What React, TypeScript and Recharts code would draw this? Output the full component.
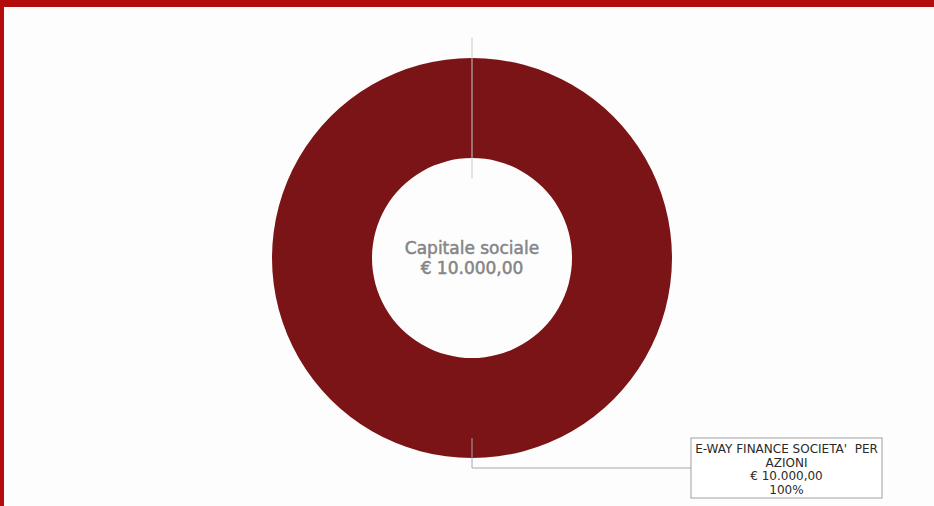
import { PieChart, Pie, Cell } from "recharts";

const holders = ["E-WAY FINANCE SOCIETA'  PER AZIONI"];
const holderLines = [["E-WAY FINANCE SOCIETA'  PER", "AZIONI"]];
const amounts = [10000];
const amountLabels = ["€ 10.000,00"];
const shareLabels = ["100%"];
const centerTitle = "Capitale sociale";
const centerValue = "€ 10.000,00";

const data = holders.map((name, i) => ({ name, value: amounts[i] }));

const FONT = "DejaVu Sans, sans-serif";

/**
 * Draws the leader lines, the boxed label of a slice and the centre title.
 */
const SliceLabel = (props: any) => {
  const { cx, cy, innerRadius, outerRadius, index } = props;
  const boxX = cx + 219;
  const boxY = cy + outerRadius - 20;
  const boxW = 191;
  const boxH = 60;
  const lines = [...holderLines[index], amountLabels[index], shareLabels[index]];
  return (
    <g>
      <line
        x1={cx}
        x2={cx}
        y1={cy - outerRadius - 20}
        y2={cy - innerRadius + 20}
        stroke="#c8c8c8"
        strokeWidth={1}
      />
      <polyline
        points={`${cx},${cy + outerRadius - 20} ${cx},${cy + outerRadius + 10} ${boxX},${cy + outerRadius + 10}`}
        fill="none"
        stroke="#a8a8a8"
        strokeWidth={1}
      />
      <rect x={boxX} y={boxY} width={boxW} height={boxH} fill="#fff" stroke="#a0a0a0" strokeWidth={1} />
      {lines.map((t, i) => (
        <text
          key={i}
          x={boxX + boxW / 2}
          y={boxY + 15 + i * 13.6}
          textAnchor="middle"
          fontFamily={FONT}
          fontSize={12}
          fill="#2a2a2a"
          style={{ whiteSpace: "pre" }}
        >
          {t}
        </text>
      ))}
      {index === 0 && (
        <>
          <text x={cx} y={cy - 4} textAnchor="middle" fontFamily={FONT} fontSize={17} fill="#858585" stroke="#858585" strokeWidth={0.5}>
            {centerTitle}
          </text>
          <text x={cx} y={cy + 16} textAnchor="middle" fontFamily={FONT} fontSize={17} fill="#858585" stroke="#858585" strokeWidth={0.5}>
            {centerValue}
          </text>
        </>
      )}
    </g>
  );
};

const App = () => {
  return (
    <div style={{ position: "fixed", left: 0, top: 0, width: 934, height: 506, background: "#fdfdfd", overflow: "hidden" }}>
      <div style={{ position: "absolute", left: 0, top: 0, width: 934, height: 7, background: "#b20c0c" }} />
      <div style={{ position: "absolute", left: 0, top: 0, width: 4, height: 506, background: "#b20c0c" }} />
      <div style={{ position: "absolute", left: 0, top: 0 }}>
        <PieChart width={934} height={506} margin={{ top: 0, right: 0, bottom: 0, left: 0 }}>
          <Pie
            data={data}
            dataKey="value"
            nameKey="name"
            cx={472}
            cy={258}
            innerRadius={100}
            outerRadius={200}
            startAngle={90}
            endAngle={-270}
            stroke="none"
            label={SliceLabel}
            labelLine={false}
            isAnimationActive={false}
          >
            {data.map((d) => (
              <Cell key={d.name} fill="#7b1416" />
            ))}
          </Pie>
        </PieChart>
      </div>
    </div>
  );
};

export default App;
